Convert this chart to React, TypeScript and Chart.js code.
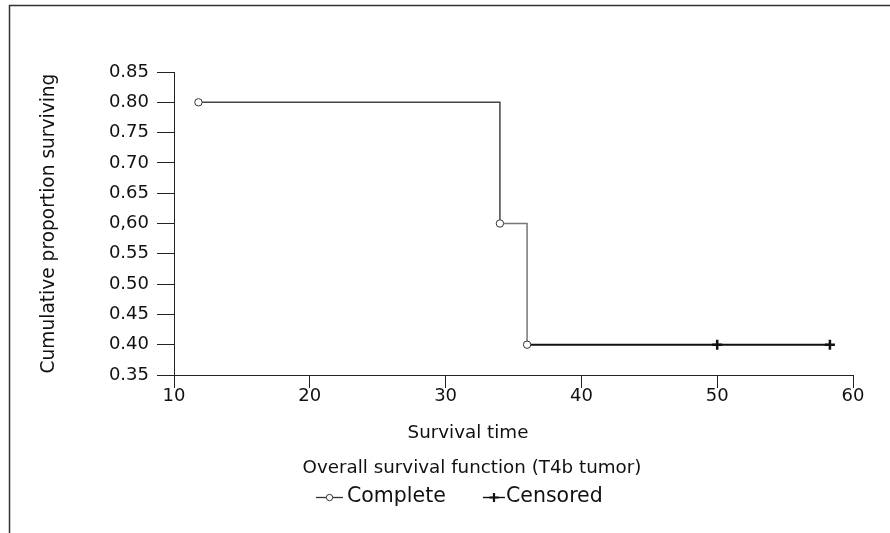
import { useEffect, useRef } from 'react';
import { Chart, registerables } from 'chart.js';

Chart.register(...registerables);

// ---- data ----
const completeTimes = [11.8, 34, 36];
const completeSurvival = [0.8, 0.6, 0.4];
const censoredTimes = [50, 58.3];
const censoredSurvival = [0.4, 0.4];
const xTickValues = [10, 20, 30, 40, 50, 60];
const yTickValues = [0.35, 0.4, 0.45, 0.5, 0.55, 0.6, 0.65, 0.7, 0.75, 0.8, 0.85];
const yTickLabels = ['0.35', '0.40', '0.45', '0.50', '0.55', '0,60', '0.65', '0.70', '0.75', '0.80', '0.85'];
const yAxisTitle = 'Cumulative proportion surviving';
const xAxisTitle = 'Survival time';
const subtitleText = 'Overall survival function (T4b tumor)';
const legendLabels = ['Complete', 'Censored'];

const FONT = '"DejaVu Sans", "Liberation Sans", sans-serif';

const decorPlugin = {
  id: 'decor',
  afterDraw(chart: any) {
    const ctx = chart.ctx as CanvasRenderingContext2D;
    ctx.save();
    // frame lines (top and left)
    ctx.strokeStyle = '#333';
    ctx.lineWidth = 1.5;
    ctx.beginPath();
    ctx.moveTo(9, 5.5);
    ctx.lineTo(890, 5.5);
    ctx.moveTo(9.5, 5);
    ctx.lineTo(9.5, 533);
    ctx.stroke();

    // x title and subtitle
    ctx.fillStyle = '#111';
    ctx.textAlign = 'center';
    ctx.textBaseline = 'middle';
    ctx.font = `18.3px ${FONT}`;
    ctx.fillText(xAxisTitle, 468, 433);
    ctx.fillText(subtitleText, 472, 468);

    // legend
    const ly = 497;
    ctx.font = `20.5px ${FONT}`;
    ctx.textAlign = 'left';
    // item 1: line with open circle
    ctx.strokeStyle = '#333';
    ctx.lineWidth = 1.3;
    ctx.beginPath();
    ctx.moveTo(316, ly + 0.5);
    ctx.lineTo(343, ly + 0.5);
    ctx.stroke();
    ctx.beginPath();
    ctx.arc(329.5, ly + 0.5, 3.2, 0, Math.PI * 2);
    ctx.fillStyle = '#fff';
    ctx.fill();
    ctx.lineWidth = 1;
    ctx.stroke();
    ctx.fillStyle = '#111';
    ctx.fillText(legendLabels[0], 347, ly);
    // item 2: line with plus
    ctx.strokeStyle = '#111';
    ctx.lineWidth = 1.4;
    ctx.beginPath();
    ctx.moveTo(483, ly + 0.5);
    ctx.lineTo(505, ly + 0.5);
    ctx.stroke();
    ctx.lineWidth = 2.2;
    ctx.beginPath();
    ctx.moveTo(489.5, ly + 0.5);
    ctx.lineTo(498.5, ly + 0.5);
    ctx.moveTo(494, ly - 4);
    ctx.lineTo(494, ly + 5);
    ctx.stroke();
    ctx.fillText(legendLabels[1], 506, ly);
    ctx.restore();
  },
};

export default function App() {
  const canvasRef = useRef<HTMLCanvasElement | null>(null);

  useEffect(() => {
    document.body.style.margin = '0';
    const canvas = canvasRef.current;
    if (!canvas) return;

    const stepPoints = completeTimes.map((t, i) => ({ x: t, y: completeSurvival[i] }));
    const lastIdx = censoredTimes.length - 1;
    stepPoints.push({ x: censoredTimes[lastIdx], y: censoredSurvival[lastIdx] });
    const censoredPoints = censoredTimes.map((t, i) => ({ x: t, y: censoredSurvival[i] }));

    const chart = new Chart(canvas, {
      type: 'line',
      data: {
        datasets: [
          {
            label: legendLabels[0],
            data: stepPoints,
            stepped: 'before',
            borderColor: '#555',
            borderWidth: 1.5,
            fill: false,
            pointRadius: stepPoints.map((_, i) => (i < completeTimes.length ? 3.7 : 0)),
            pointBackgroundColor: '#fff',
            pointBorderColor: '#333',
            pointBorderWidth: 1,
            segment: {
              borderColor: (c: any) => (c.p0DataIndex === 2 ? '#111' : c.p0DataIndex === 1 ? '#777' : '#444'),
              borderWidth: (c: any) => (c.p0DataIndex === 2 ? 2 : 1.5),
            },
            order: 2,
          } as any,
          {
            label: legendLabels[1],
            data: censoredPoints,
            showLine: false,
            pointStyle: 'cross',
            pointRadius: 5,
            pointBorderWidth: 2.5,
            pointBorderColor: '#111',
            order: 1,
          } as any,
        ],
      },
      options: {
        animation: false,
        responsive: false,
        layout: { padding: { top: 72, right: 37, bottom: 0, left: 0 } },
        plugins: {
          legend: { display: false },
          tooltip: { enabled: false },
          title: { display: false },
        },
        scales: {
          x: {
            type: 'linear',
            min: 10,
            max: 60,
            afterBuildTicks: (axis: any) => {
              axis.ticks = xTickValues.map((v) => ({ value: v }));
            },
            afterFit: (s: any) => {
              s.height = 158;
            },
            grid: { display: true, drawOnChartArea: false, drawTicks: true, tickLength: 13, color: '#222' },
            border: { display: true, color: '#222', width: 1 },
            ticks: { font: { family: FONT, size: 18 }, color: '#111', padding: -2, maxRotation: 0 },
            title: { display: false },
          },
          y: {
            type: 'linear',
            min: 0.35,
            max: 0.85,
            afterBuildTicks: (axis: any) => {
              axis.ticks = yTickValues.map((v) => ({ value: v }));
            },
            afterFit: (s: any) => {
              s.width = 174;
            },
            grid: { display: true, drawOnChartArea: false, drawTicks: true, tickLength: 17, color: '#222' },
            border: { display: true, color: '#222', width: 1 },
            ticks: {
              font: { family: FONT, size: 18 },
              color: '#111',
              padding: 8,
              callback: (_v: any, i: number) => yTickLabels[i],
            },
            title: {
              display: true,
              text: yAxisTitle,
              color: '#111',
              font: { family: FONT, size: 18.6 },
              padding: { top: 38, bottom: 0 },
            },
          },
        },
      },
      plugins: [decorPlugin],
    });

    return () => chart.destroy();
  }, []);

  return <canvas ref={canvasRef} width={890} height={533} style={{ display: 'block' }} />;
}
